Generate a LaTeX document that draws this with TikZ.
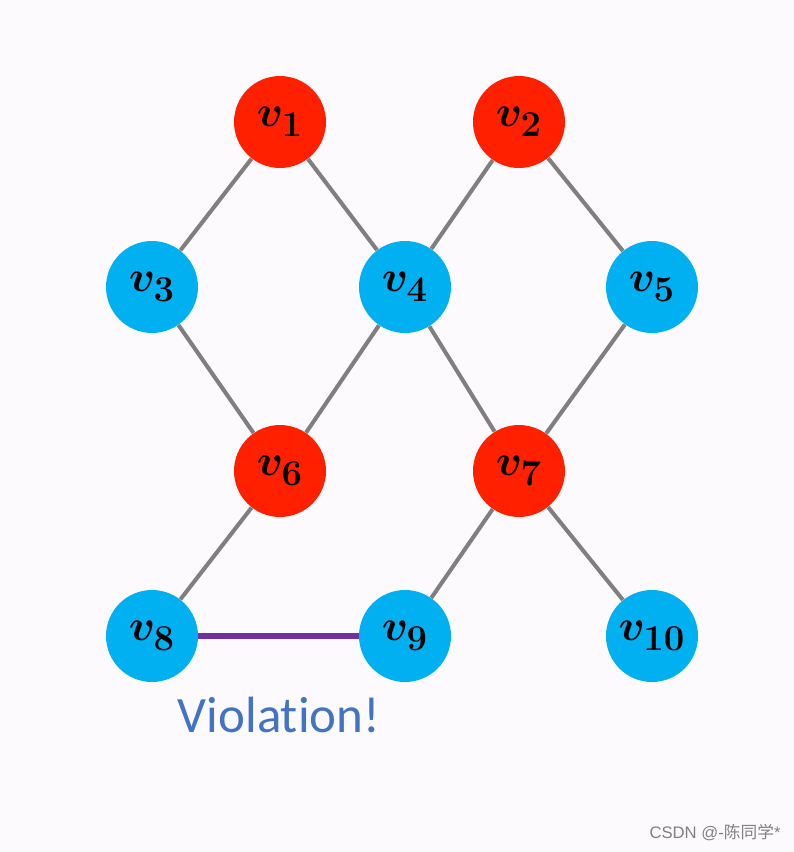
\documentclass[tikz,border=0pt]{standalone}
\usepackage{fontspec}
\setsansfont{Carlito}[Ligatures=NoCommon]
\newfontfamily\cjkfont{Noto Sans CJK SC}
\newfontfamily\wmfont{Liberation Sans}
\definecolor{bgpink}{RGB}{253,250,253}
\definecolor{vred}{RGB}{255,32,0}
\definecolor{vblue}{RGB}{0,176,240}
\definecolor{edgegray}{RGB}{127,127,127}
\definecolor{badpurple}{RGB}{112,48,160}
\definecolor{notered}{RGB}{68,114,196}
\newcommand{\vlab}[1]{\raisebox{-3pt}{$v_{\lower2pt\hbox{$\scriptstyle #1$}}$}}
\begin{document}
\begin{tikzpicture}[x=0.02cm,y=-0.02cm,
  vtx/.style={circle,minimum size=1.84cm,inner sep=0pt,font=\fontsize{29}{34}\selectfont\boldmath},
  redv/.style={vtx,fill=vred},
  bluev/.style={vtx,fill=vblue},
  edge/.style={edgegray,line width=2.3pt},
  bad/.style={badpurple,line width=3pt}]
\fill[bgpink] (0,0) rectangle (794,852);
\useasboundingbox (0,0) rectangle (794,852);

\node[redv] (v1) at (280,122) {\vlab{1}};
\node[redv] (v2) at (519,122) {\vlab{2}};
\node[bluev] (v3) at (152,287) {\vlab{3}};
\node[bluev] (v4) at (405,287) {\vlab{4}};
\node[bluev] (v5) at (652,287) {\vlab{5}};
\node[redv] (v6) at (280,471) {\vlab{6}};
\node[redv] (v7) at (519,471) {\vlab{7}};
\node[bluev] (v8) at (152,636) {\vlab{8}};
\node[bluev] (v9) at (405,636) {\vlab{9}};
\node[bluev] (v10) at (652,636) {\vlab{10}};

\draw[edge] (v1) -- (v3);
\draw[edge] (v1) -- (v4);
\draw[edge] (v2) -- (v4);
\draw[edge] (v2) -- (v5);
\draw[edge] (v3) -- (v6);
\draw[edge] (v4) -- (v6);
\draw[edge] (v4) -- (v7);
\draw[edge] (v5) -- (v7);
\draw[edge] (v6) -- (v8);
\draw[edge] (v7) -- (v9);
\draw[edge] (v7) -- (v10);
\draw[bad] (v8) -- (v9);

\node[text=notered,font=\sffamily\fontsize{29}{34}\selectfont] (violation) at (279,715) {Violation!};
\node[text=gray,font=\fontsize{9.5}{11}\selectfont\wmfont] (mark) at (715,833) {CSDN @-{\cjkfont 陈同学}*};
\end{tikzpicture}
\end{document}
